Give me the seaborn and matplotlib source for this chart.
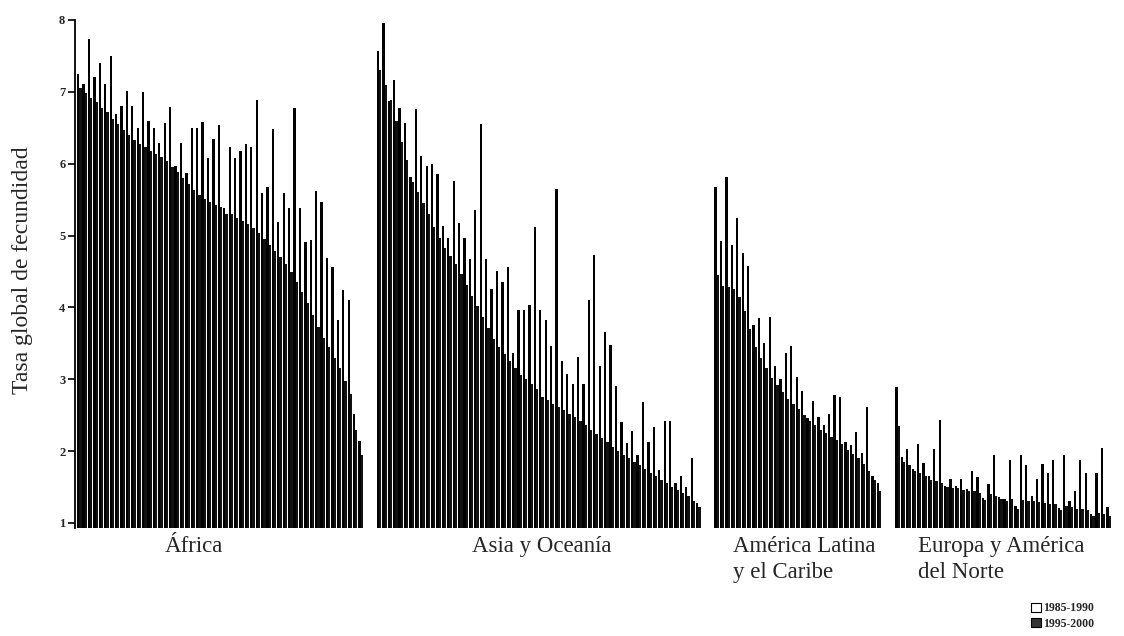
import numpy as np
import pandas as pd
import seaborn as sns
import matplotlib
matplotlib.use("Agg")
import matplotlib.pyplot as plt
from matplotlib.patches import Patch

# ---------------- data ----------------
regions = ["África", "Asia y Oceanía", "América Latina\ny el Caribe", "Europa y América\ndel Norte"]
periods = ["1985-1990", "1995-2000"]
yticks = [1, 2, 3, 4, 5, 6, 7, 8]
ylabel = "Tasa global de fecundidad"

africa_8590 = [7.25, 7.11, 7.73, 7.20, 7.40, 7.11, 7.50, 6.69, 6.80, 7.01,
               6.80, 6.50, 7.00, 6.60, 6.50, 6.29, 6.57, 6.79, 5.97, 6.29,
               5.87, 6.49, 6.49, 6.58, 6.08, 6.35, 6.54, 5.38, 6.23, 6.08,
               6.18, 6.28, 6.23, 6.89, 5.59, 5.68, 6.48, 5.19, 5.59, 5.38,
               6.78, 5.38, 4.91, 4.94, 5.62, 5.47, 4.69, 4.56, 3.83, 4.24,
               4.10, 2.52, 2.14]
africa_9500 = [7.05, 6.98, 6.92, 6.86, 6.78, 6.72, 6.62, 6.55, 6.47, 6.40,
               6.33, 6.28, 6.23, 6.18, 6.14, 6.10, 6.04, 5.96, 5.88, 5.80,
               5.72, 5.64, 5.57, 5.51, 5.47, 5.43, 5.40, 5.30, 5.30, 5.25,
               5.20, 5.16, 5.10, 5.03, 4.95, 4.87, 4.79, 4.70, 4.60, 4.49,
               4.36, 4.22, 4.06, 3.90, 3.73, 3.58, 3.45, 3.30, 3.16, 2.98,
               2.80, 2.30, 1.95]

asia_8590 = [7.57, 7.96, 6.87, 7.17, 6.77, 6.57, 5.82, 6.76, 6.11, 5.97,
             5.99, 5.86, 5.13, 4.96, 5.76, 5.17, 4.96, 4.67, 5.36, 6.55,
             4.67, 4.26, 4.51, 4.35, 4.56, 3.36, 3.97, 3.96, 4.03, 5.12,
             3.97, 3.83, 3.46, 5.65, 3.25, 3.07, 2.93, 3.31, 2.93, 4.11,
             4.73, 3.18, 3.66, 3.47, 2.90, 2.41, 2.11, 2.28, 1.94, 2.68,
             2.12, 2.33, 1.74, 2.42, 2.42, 1.55, 1.66, 1.50, 1.90, 1.28]
asia_9500 = [7.30, 7.10, 6.88, 6.60, 6.30, 6.05, 5.75, 5.60, 5.45, 5.30,
             5.12, 4.96, 4.82, 4.72, 4.60, 4.46, 4.31, 4.16, 4.02, 3.86,
             3.71, 3.56, 3.45, 3.35, 3.25, 3.15, 3.06, 3.00, 2.94, 2.86,
             2.76, 2.71, 2.66, 2.62, 2.57, 2.52, 2.47, 2.42, 2.36, 2.30,
             2.24, 2.18, 2.12, 2.06, 2.00, 1.95, 1.90, 1.85, 1.80, 1.75,
             1.70, 1.65, 1.60, 1.55, 1.50, 1.46, 1.42, 1.38, 1.30, 1.22]

latam_8590 = [5.68, 4.93, 5.82, 4.87, 5.24, 4.76, 4.57, 3.76, 3.85, 3.50,
              3.86, 3.19, 3.01, 3.36, 3.46, 3.03, 2.84, 2.46, 2.70, 2.48,
              2.36, 2.52, 2.78, 2.75, 2.12, 2.09, 2.27, 1.97, 2.61, 1.65,
              1.56]
latam_9500 = [4.45, 4.30, 4.28, 4.25, 4.15, 3.95, 3.70, 3.45, 3.30, 3.15,
              3.02, 2.92, 2.82, 2.72, 2.65, 2.58, 2.50, 2.42, 2.36, 2.30,
              2.25, 2.20, 2.15, 2.10, 2.02, 1.96, 1.90, 1.82, 1.72, 1.60,
              1.45]

europe_8590 = [2.89, 1.92, 2.03, 1.75, 2.10, 1.84, 1.66, 2.03, 2.44, 1.52,
               1.61, 1.52, 1.61, 1.47, 1.72, 1.64, 1.35, 1.54, 1.95, 1.36,
               1.33, 1.88, 1.24, 1.94, 1.81, 1.38, 1.61, 1.82, 1.69, 1.88,
               1.21, 1.95, 1.30, 1.44, 1.88, 1.70, 1.12, 1.70, 2.04, 1.22]
europe_9500 = [2.35, 1.85, 1.80, 1.72, 1.70, 1.66, 1.60, 1.58, 1.56, 1.50,
               1.49, 1.48, 1.46, 1.45, 1.44, 1.42, 1.32, 1.40, 1.38, 1.34,
               1.30, 1.34, 1.20, 1.32, 1.31, 1.30, 1.29, 1.28, 1.27, 1.26,
               1.18, 1.23, 1.22, 1.20, 1.19, 1.18, 1.10, 1.14, 1.12, 1.10]

series = [(africa_8590, africa_9500), (asia_8590, asia_9500),
          (latam_8590, latam_9500), (europe_8590, europe_9500)]

# ---------------- build table ----------------
GROUP_STEP = 3.42  # distance between last country of a region and first of next
rows = []
start = 0.0
for reg, (a, b) in zip(regions, series):
    for k, (va, vb) in enumerate(zip(a, b)):
        pos = round(start + k, 3)
        rows.append({"region": reg, "pos": pos, "period": periods[0], "tfr": va})
        rows.append({"region": reg, "pos": pos, "period": periods[1], "tfr": vb})
    start = start + len(a) - 1 + GROUP_STEP
df = pd.DataFrame(rows)
last_pos = df["pos"].max()

# ---------------- plot ----------------
sns.set_theme(style="white")
plt.rcParams["font.family"] = ["Liberation Serif", "DejaVu Serif"]

W, H = 1124, 636
fig = plt.figure(figsize=(W / 100, H / 100), dpi=100)
ax = fig.add_axes([75 / W, 1 - 528 / H, (1115 - 75) / W, (528 - 20) / H])

sns.barplot(data=df, x="pos", y="tfr", hue="period", hue_order=periods,
            native_scale=True, orient="x", dodge=True, width=0.84,
            palette=["#000000", "#111111"], linewidth=0, errorbar=None,
            legend=False, ax=ax)

ax.set_ylim(0.93, 8.0)
ax.set_xlim(-0.8, last_pos + 1.2)
ax.set_xticks([])
ax.set_xlabel("")
ax.set_yticks(yticks)
ax.set_yticklabels([str(t) for t in yticks], fontsize=9, fontweight="bold")
ax.tick_params(axis="y", left=True, length=5, width=1.2, color="black", pad=2)
for s in ["top", "right", "bottom"]:
    ax.spines[s].set_visible(False)
ax.spines["left"].set_color("black")
ax.spines["left"].set_linewidth(1.3)

ax.set_ylabel(ylabel, fontsize=17)
ax.yaxis.set_label_coords(-0.040, 0.508)

# region labels
label_x = [165, 472, 733, 918]
for txt, xp in zip(regions, label_x):
    fig.text(xp / W, 1 - 536 / H, txt, ha="left", va="top", fontsize=16.5,
             linespacing=1.3)

# legend
handles = [Patch(facecolor="white", edgecolor="black", linewidth=0.8),
           Patch(facecolor="#333333", edgecolor="black", linewidth=0.8)]
fig.legend(handles, periods, loc="lower right",
           bbox_to_anchor=(1094 / W, 1 - 630 / H), frameon=False,
           prop={"size": 8.5, "weight": "bold"}, handlelength=0.8,
           handleheight=0.8, handletextpad=0.2, labelspacing=0.3,
           borderpad=0, borderaxespad=0)

fig.savefig("out.png", dpi=100)
